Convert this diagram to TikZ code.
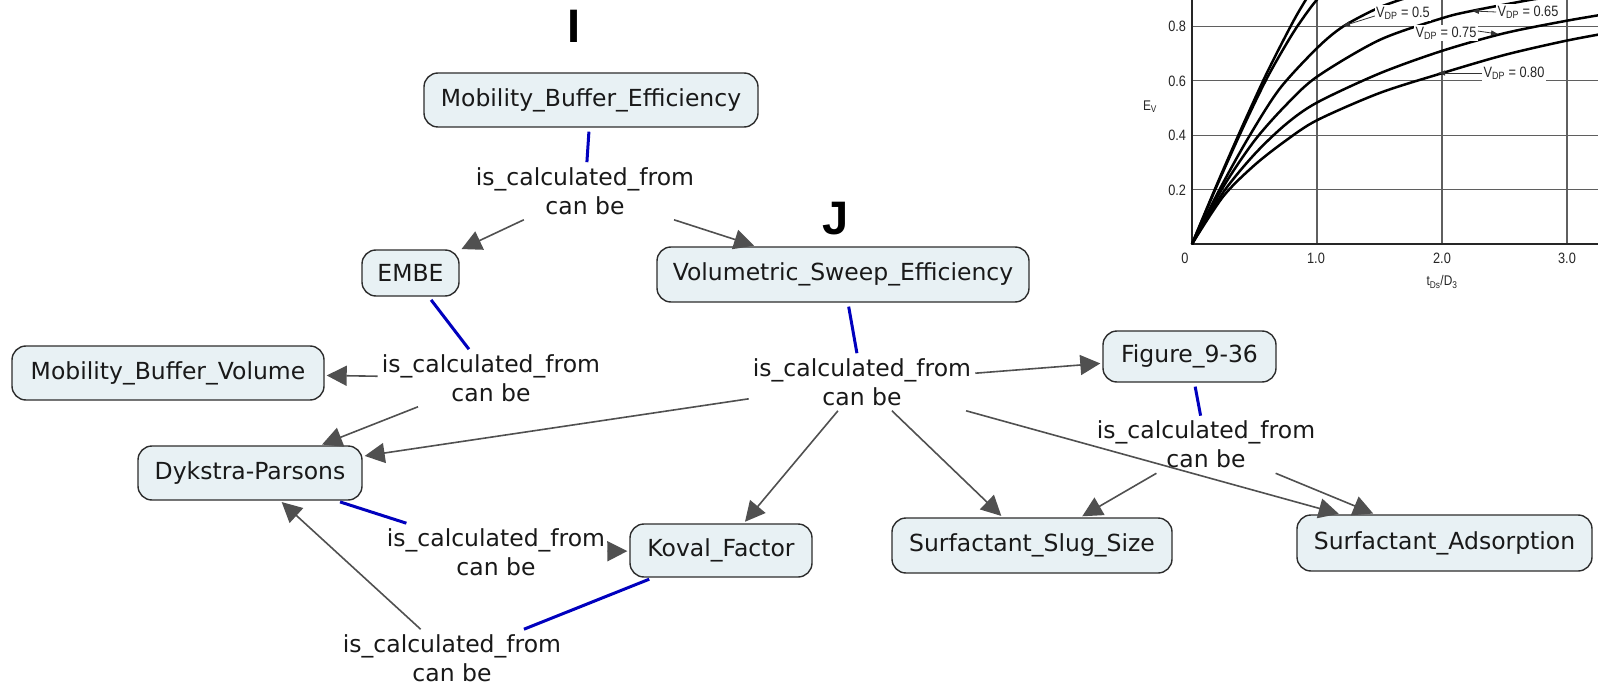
\documentclass[tikz,border=0pt]{standalone}
\usepackage{fontspec}
\setmainfont{DejaVu Sans}
\newfontfamily\chartfont{Liberation Sans}
\usetikzlibrary{arrows.meta}

\definecolor{boxfill}{RGB}{232,241,244}
\definecolor{boxline}{RGB}{45,45,45}
\definecolor{arrowgray}{RGB}{80,80,80}
\definecolor{linkblue}{RGB}{0,0,190}
\definecolor{inkcol}{RGB}{25,25,25}
\definecolor{gridcol}{RGB}{95,95,95}

\tikzset{
  concept/.style={draw=boxline, line width=1.4pt, fill=boxfill, rounded corners=14pt,
    font=\fontsize{23.5}{29}\selectfont, text=inkcol, inner sep=0pt},
  linkphrase/.style={font=\fontsize{23.5}{29}\selectfont, text=inkcol, align=center,
    inner xsep=4pt, inner ysep=5pt},
  toblue/.style={draw=linkblue, line width=3pt, shorten <=4pt},
  toarrow/.style={draw=arrowgray, line width=1.6pt, -{Triangle[length=20pt,width=20pt]}, shorten >=2pt},
  tag/.style={font=\chartfont\bfseries\fontsize{47}{47}\selectfont, text=black, inner sep=0pt},
  gridline/.style={draw=gridcol, line width=1.1pt},
  axisline/.style={draw=black!85, line width=2pt},
  curve/.style={draw=black, line width=2.5pt},
  ticklabel/.style={font=\chartfont\fontsize{15}{15}\selectfont, text=black!85, inner sep=1pt,
    xscale=0.85, transform shape},
  vlabel/.style={font=\chartfont\fontsize{15}{15}\selectfont, text=black!85, fill=white, inner sep=1.5pt,
    xscale=0.85, transform shape},
  leader/.style={draw=black!80, line width=0.8pt, -{Triangle[length=7pt,width=5pt]}}
}

\begin{document}
\begin{tikzpicture}[x=1pt, y=-1pt]
\useasboundingbox (0,0) rectangle (1598,687);
\fill[white] (0,0) rectangle (1598,687);

% ---------- chart E_V versus t_Ds/D_3 ----------
\coordinate (O) at (1192,244);
\begin{scope}
  \clip (1120,0) rectangle (1598,300);
  \begin{scope}[shift={(O)}, x=125pt, y=272pt]
    \foreach \v in {0.2,0.4,0.6,0.8} \draw[gridline] (0,\v) -- (3.4,\v);
    \foreach \u in {1,2,3} \draw[gridline] (\u,0) -- (\u,1);
    \draw[axisline] (0,1) -- (0,0) -- (3.4,0);
    % efficiency curves
    \draw[curve] plot[smooth] coordinates {(0,0) (0.2,0.22) (0.4,0.43) (0.6,0.63) (0.8,0.81) (0.9,0.89) (0.95,0.925)};
    \draw[curve] plot[smooth] coordinates {(0,0) (0.2,0.215) (0.4,0.42) (0.6,0.61) (0.8,0.77) (0.95,0.87) (1.05,0.925)};
    \draw[curve] plot[smooth] coordinates {(0,0) (0.22,0.2) (0.45,0.39) (0.7,0.57) (1,0.72) (1.21,0.80) (1.5,0.87) (1.75,0.91)};
    \draw[curve] plot[smooth] coordinates {(0,0) (0.25,0.21) (0.5,0.38) (0.75,0.51) (1,0.615) (1.5,0.75) (2,0.83) (2.25,0.858) (2.7,0.897) (2.9,0.91)};
    \draw[curve] plot[smooth] coordinates {(0,0) (0.25,0.19) (0.5,0.33) (0.75,0.44) (1,0.52) (1.5,0.627) (2,0.71) (2.5,0.775) (3,0.821) (3.4,0.852)};
    \draw[curve] plot[smooth] coordinates {(0,0) (0.25,0.175) (0.5,0.29) (0.75,0.38) (1,0.455) (1.5,0.555) (2,0.628) (2.5,0.695) (3,0.748) (3.4,0.782)};
  \end{scope}
  % curve labels
  \node[vlabel] (v05) at (1403,13) {V\textsubscript{DP} = 0.5};
  \node[vlabel] (v065) at (1528,12) {V\textsubscript{DP} = 0.65};
  \node[vlabel] (v075) at (1446,33) {V\textsubscript{DP} = 0.75};
  \node[vlabel] (v080) at (1514,73) {V\textsubscript{DP} = 0.80};
  \coordinate (t05) at (1343,26);
  \coordinate (t065) at (1472,11);
  \coordinate (t075) at (1498,34);
  \coordinate (t080) at (1438,73);
  \draw[leader] ([yshift=-3pt]v05.west) -- (t05);
  \draw[leader] (v065.west) -- (t065);
  \draw[leader] ([yshift=2pt]v075.east) -- (t075);
  \draw[leader] (v080.west) -- (t080);
\end{scope}
\node[ticklabel, anchor=east] (y08) at (1187,26) {0.8};
\node[ticklabel, anchor=east] (y06) at (1187,81) {0.6};
\node[ticklabel, anchor=east] (y04) at (1187,135) {0.4};
\node[ticklabel, anchor=east] (y02) at (1187,190) {0.2};
\node[ticklabel] (x0) at (1185,258) {0};
\node[ticklabel] (x1) at (1316,258) {1.0};
\node[ticklabel] (x2) at (1442,258) {2.0};
\node[ticklabel] (x3) at (1567,258) {3.0};
\node[ticklabel, font=\chartfont\fontsize{14}{14}\selectfont] (ev) at (1150,107) {E\textsubscript{V}};
\node[ticklabel, font=\chartfont\fontsize{14}{14}\selectfont] (xl) at (1442,282) {t\textsubscript{Ds}/D\textsubscript{3}};

% ---------- section letters ----------
\node[tag] (tagI) at (574,26) {I};
\node[tag] (tagJ) at (836,219) {J};

% ---------- concepts ----------
\node[concept, minimum width=334pt, minimum height=54pt] (mbe) at (591,100) {Mobility\_Buffer\_Efficiency};
\node[concept, minimum width=97pt, minimum height=46pt] (embe) at (410.5,273) {EMBE};
\node[concept, minimum width=372pt, minimum height=55pt] (vse) at (843,274.5) {Volumetric\_Sweep\_Efficiency};
\node[concept, minimum width=312pt, minimum height=54pt] (mbv) at (168,373) {Mobility\_Buffer\_Volume};
\node[concept, minimum width=173pt, minimum height=51pt] (fig) at (1189.5,356.5) {Figure\_9-36};
\node[concept, minimum width=224pt, minimum height=54pt] (dp) at (250,473) {Dykstra-Parsons};
\node[concept, minimum width=182pt, minimum height=53pt] (kf) at (721,550.5) {Koval\_Factor};
\node[concept, minimum width=280pt, minimum height=55pt] (sss) at (1032,545.5) {Surfactant\_Slug\_Size};
\node[concept, minimum width=295pt, minimum height=56pt] (sa) at (1444.5,543) {Surfactant\_Adsorption};

% ---------- linking phrases ----------
\node[linkphrase] (l1) at (585,191) {is\_calculated\_from\\can be};
\node[linkphrase] (l2) at (491,378) {is\_calculated\_from\\can be};
\node[linkphrase] (l3) at (862,382) {is\_calculated\_from\\can be};
\node[linkphrase] (l4) at (1206,444.5) {is\_calculated\_from\\can be};
\node[linkphrase] (l5) at (496,552) {is\_calculated\_from\\can be};
\node[linkphrase] (l6) at (452,658) {is\_calculated\_from\\can be};

% ---------- connections ----------
\draw[toblue] (mbe) -- (l1);
\draw[toarrow] (l1) -- (embe);
\draw[toarrow] (l1) -- (vse);
\draw[toblue] (embe) -- (l2);
\draw[toarrow] (l2) -- (mbv);
\draw[toarrow] (l2) -- (dp);
\draw[toblue] (vse) -- (l3);
\draw[toarrow] (l3) -- (dp);
\draw[toarrow] (l3) -- (fig);
\draw[toarrow] (l3) -- (kf);
\draw[toarrow] (l3) -- (sss);
\draw[toarrow] (l3) -- (sa);
\draw[toblue] (fig) -- (l4);
\draw[toarrow] (l4) -- (sss);
\draw[toarrow] (l4) -- (sa);
\draw[toblue] (dp) -- (l5);
\draw[toarrow] (l5) -- (kf);
\draw[toblue] (kf) -- (l6);
\draw[toarrow] (l6) -- (dp);
\end{tikzpicture}
\end{document}
